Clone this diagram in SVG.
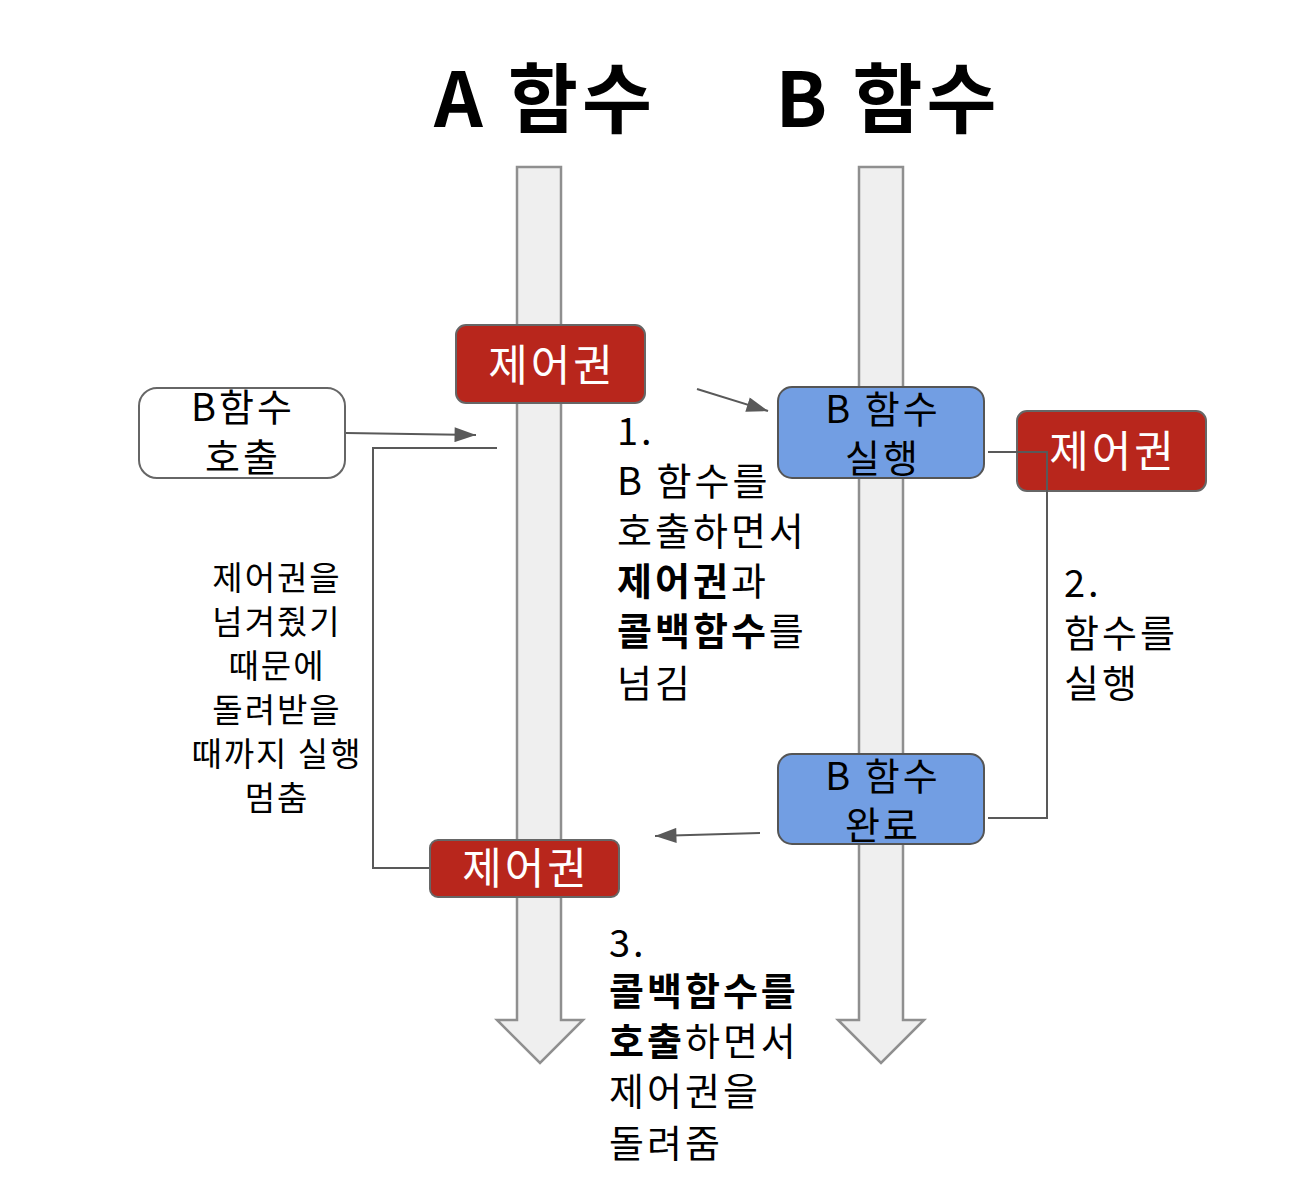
<svg xmlns="http://www.w3.org/2000/svg" width="1290" height="1202" viewBox="0 0 1290 1202">
<defs>
<style>
text{font-family:"Noto Sans CJK KR","Noto Sans",sans-serif;fill:#000}
.title{font-size:76px;font-weight:bold;text-anchor:middle;letter-spacing:4px}
.red{fill:#b8261c;stroke:#666;stroke-width:2}
.blue{fill:#729ee3;stroke:#555;stroke-width:2}
.white{fill:#fff;stroke:#666;stroke-width:2}
.rt{fill:#fff;font-size:43px;text-anchor:middle;letter-spacing:3px}
.bt{font-size:38px;text-anchor:middle;letter-spacing:3px}
.lbl{font-size:38px;letter-spacing:3px}
.small{font-size:33px;text-anchor:middle;letter-spacing:2px}
.big{fill:#efefef;stroke:#8f8f8f;stroke-width:2.5}
.con{fill:none;stroke:#595959;stroke-width:2}
.b{font-weight:bold}
</style>
<marker id="ah2" viewBox="0 0 20 14" refX="20" refY="7" markerWidth="22" markerHeight="15" markerUnits="userSpaceOnUse" orient="auto">
<path d="M0,0 L20,7 L0,14 z" fill="#595959"/>
</marker>
</defs>
<rect width="1290" height="1202" fill="#fff"/>

<g id="titleA"><text class="title" x="545" y="127">A 함수</text></g>
<g id="titleB"><text class="title" x="888" y="127">B 함수</text></g>

<g id="arrowA"><path class="big" d="M517,167 H561 V1020 H583 L540,1063 L497,1020 H517 Z"/></g>
<g id="arrowB"><path class="big" d="M859,167 H903 V1020 H924 L881,1063 L838,1020 H859 Z"/></g>

<g id="connectors">
<line class="con" x1="346" y1="433" x2="476" y2="435" marker-end="url(#ah2)"/>
<polyline class="con" points="497,448 373,448 373,868 430,868"/>
<line class="con" x1="697" y1="389" x2="768" y2="411" marker-end="url(#ah2)"/>
<line class="con" x1="760" y1="833" x2="655" y2="836" marker-end="url(#ah2)"/>
</g>

<g id="callB"><rect class="white" x="139" y="388" width="206" height="90" rx="18"/>
<text class="bt" x="243" y="421">B함수</text><text class="bt" x="243" y="471">호출</text></g>

<g id="ctrl1"><rect class="red" x="456" y="325" width="189" height="78" rx="10"/>
<text class="rt" x="552" y="381">제어권</text></g>

<g id="runB"><rect class="blue" x="778" y="387" width="206" height="91" rx="14"/>
<text class="bt" x="883" y="423">B 함수</text><text class="bt" x="883" y="472">실행</text></g>

<g id="ctrl2"><rect class="red" x="1017" y="411" width="189" height="80" rx="10"/>
<text class="rt" x="1113" y="467">제어권</text></g>

<g id="doneB"><rect class="blue" x="778" y="754" width="206" height="90" rx="14"/>
<text class="bt" x="883" y="790">B 함수</text><text class="bt" x="883" y="839">완료</text></g>

<g id="ctrl3"><rect class="red" x="430" y="840" width="189" height="57" rx="8"/>
<text class="rt" x="526" y="884">제어권</text></g>

<g id="connectors2">
<polyline class="con" points="988,452 1047,452 1047,818 988,818"/>
</g>

<g id="note1">
<text class="lbl" x="617" y="445">1.</text>
<text class="lbl" x="617" y="495">B 함수를</text>
<text class="lbl" x="617" y="545">호출하면서</text>
<text class="lbl" x="617" y="595"><tspan class="b">제어권</tspan>과</text>
<text class="lbl" x="617" y="645"><tspan class="b">콜백함수</tspan>를</text>
<text class="lbl" x="617" y="697">넘김</text>
</g>

<g id="noteLeft">
<text class="small" x="277" y="590">제어권을</text>
<text class="small" x="277" y="634">넘겨줬기</text>
<text class="small" x="277" y="678">때문에</text>
<text class="small" x="277" y="722">돌려받을</text>
<text class="small" x="277" y="766">때까지 실행</text>
<text class="small" x="277" y="810">멈춤</text>
</g>

<g id="note2">
<text class="lbl" x="1064" y="597">2.</text>
<text class="lbl" x="1064" y="647">함수를</text>
<text class="lbl" x="1064" y="697">실행</text>
</g>

<g id="note3">
<text class="lbl" x="609" y="957">3.</text>
<text class="lbl b" x="609" y="1005">콜백함수를</text>
<text class="lbl" x="609" y="1055"><tspan class="b">호출</tspan>하면서</text>
<text class="lbl" x="609" y="1105">제어권을</text>
<text class="lbl" x="609" y="1157">돌려줌</text>
</g>
</svg>
